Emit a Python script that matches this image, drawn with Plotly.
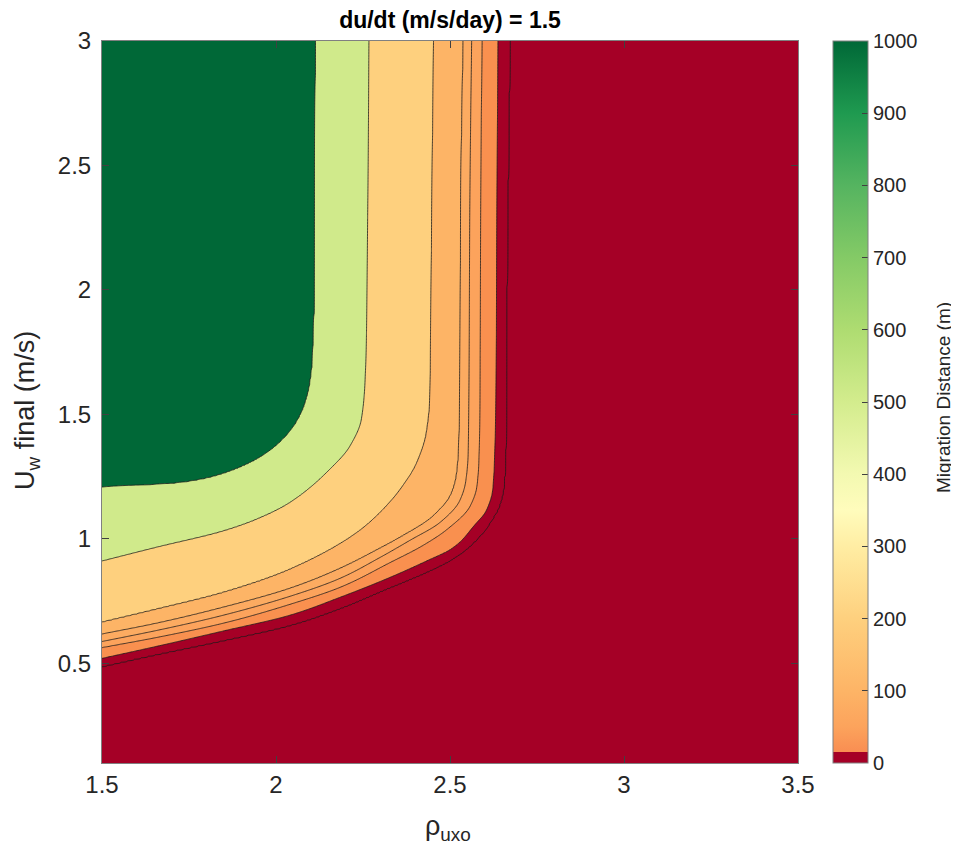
import numpy as np
import plotly.graph_objects as go

# ---- data -----------------------------------------------------------------
levels = [1000, 500, 200, 100, 75, 50, 25, 10]  # contour levels (m)

# boundary of each level: points (rho_uxo, U_w final) from left edge to top edge
b1000_rho = [1.5, 1.694, 1.780, 1.838, 1.895, 1.953, 2.010, 2.054, 2.082, 2.097, 2.105, 2.108, 2.111, 2.112, 2.114]
b1000_U   = [1.210, 1.222, 1.238, 1.258, 1.287, 1.327, 1.387, 1.459, 1.539, 1.620, 1.720, 1.840, 1.961, 2.563, 3.0]

b500_rho = [1.5, 1.656, 1.847, 1.943, 2.039, 2.154, 2.212, 2.245, 2.255, 2.260, 2.261, 2.265, 2.267]
b500_U   = [0.911, 0.966, 1.031, 1.078, 1.145, 1.279, 1.372, 1.479, 1.613, 1.827, 1.961, 2.563, 3.0]

b200_rho = [1.5, 1.656, 1.847, 2.039, 2.231, 2.298, 2.356, 2.404, 2.432, 2.442, 2.444, 2.448, 2.453]
b200_U   = [0.665, 0.717, 0.784, 0.877, 1.024, 1.105, 1.198, 1.305, 1.426, 1.560, 1.760, 2.362, 3.0]

b100_rho = [1.5, 1.656, 1.847, 2.039, 2.183, 2.298, 2.356, 2.450, 2.505, 2.519, 2.525, 2.528, 2.531, 2.538]
b100_U   = [0.618, 0.661, 0.725, 0.801, 0.881, 0.962, 1.006, 1.090, 1.186, 1.258, 1.359, 1.559, 2.362, 3.0]

b75_rho = [1.5, 1.656, 1.847, 2.039, 2.183, 2.298, 2.384, 2.471, 2.528, 2.545, 2.552, 2.554, 2.557, 2.562]
b75_U   = [0.588, 0.632, 0.693, 0.769, 0.841, 0.925, 0.994, 1.066, 1.154, 1.230, 1.339, 1.559, 2.362, 3.0]

b50_rho = [1.5, 1.656, 1.847, 2.039, 2.183, 2.327, 2.422, 2.491, 2.557, 2.577, 2.583, 2.586, 2.588, 2.592]
b50_U   = [0.564, 0.604, 0.661, 0.737, 0.805, 0.905, 0.974, 1.038, 1.130, 1.210, 1.319, 1.559, 2.362, 3.0]

b25_rho = [1.5, 1.656, 1.847, 2.039, 2.183, 2.327, 2.442, 2.499, 2.534, 2.565, 2.606, 2.623, 2.629, 2.632, 2.635, 2.638]
b25_U   = [0.520, 0.568, 0.630, 0.693, 0.765, 0.845, 0.917, 0.955, 0.994, 1.046, 1.118, 1.198, 1.359, 1.559, 2.362, 3.0]

b10_rho = [1.5, 1.656, 1.847, 2.039, 2.183, 2.327, 2.442, 2.510, 2.560, 2.597, 2.622, 2.643, 2.655, 2.660, 2.663, 2.666, 2.672]
b10_U   = [0.488, 0.536, 0.592, 0.653, 0.721, 0.805, 0.873, 0.922, 0.975, 1.030, 1.080, 1.138, 1.218, 1.359, 1.961, 2.362, 3.0]

boundaries = [(b1000_rho, b1000_U), (b500_rho, b500_U), (b200_rho, b200_U), (b100_rho, b100_U),
              (b75_rho, b75_U), (b50_rho, b50_U), (b25_rho, b25_U), (b10_rho, b10_U)]

# band colours (>=1000, 500-1000, 200-500, 100-200, 75-100, 50-75, 25-50, 10-25, <10)
band_colors = ['#006837', '#d0ea8b', '#fed07e', '#fdb466', '#fcab61', '#fca35c', '#f9904f', '#a50026', '#a50026']

x_ticks = [1.5, 2, 2.5, 3, 3.5]
x_ticktext = ['1.5', '2', '2.5', '3', '3.5']
y_ticks = [0.5, 1, 1.5, 2, 2.5, 3]
y_ticktext = ['0.5', '1', '1.5', '2', '2.5', '3']
cb_ticks = [0, 100, 200, 300, 400, 500, 600, 700, 800, 900, 1000]

cbar_pos = [0, 0.0156, 0.0156, 0.05, 0.1, 0.2, 0.3, 0.35, 0.4, 0.5, 0.6, 0.7, 0.8, 0.9, 1.0]
cbar_colors = ['#a50026', '#a50026', '#f98e52', '#fca35c', '#fdb466', '#fed07e', '#ffeda3', '#fffcbc',
               '#f3f9b1', '#d3ec8d', '#aedc71', '#84ca66', '#55b460', '#1f9a50', '#006837']


# ---- smooth (monotone cubic) curve through the boundary points -------------
def pchip(xk, yk, xq):
    xk = np.asarray(xk, float)
    yk = np.asarray(yk, float)
    h = np.diff(xk)
    d = np.diff(yk) / h
    n = len(xk)
    m = np.zeros(n)
    m[0], m[-1] = d[0], d[-1]
    for k in range(1, n - 1):
        if d[k - 1] * d[k] <= 0:
            m[k] = 0.0
        else:
            w1 = 2 * h[k] + h[k - 1]
            w2 = h[k] + 2 * h[k - 1]
            m[k] = (w1 + w2) / (w1 / d[k - 1] + w2 / d[k])
    idx = np.clip(np.searchsorted(xk, xq) - 1, 0, n - 2)
    t = (xq - xk[idx]) / h[idx]
    h00 = 2 * t ** 3 - 3 * t ** 2 + 1
    h10 = t ** 3 - 2 * t ** 2 + t
    h01 = -2 * t ** 3 + 3 * t ** 2
    h11 = t ** 3 - t ** 2
    return h00 * yk[idx] + h10 * h[idx] * m[idx] + h01 * yk[idx + 1] + h11 * h[idx] * m[idx + 1]


# ---- field of level index built from the boundaries ------------------------
xg = np.linspace(1.5, 3.5, 601)
yg = np.linspace(0.1, 3.0, 481)
nb = len(boundaries)
XB = np.zeros((nb, len(yg)))
for j, (bx, by) in enumerate(boundaries):
    bx = np.array(bx, float)
    by = np.array(by, float)
    inside = yg >= by[0]
    xb = np.empty_like(yg)
    xb[inside] = pchip(by, bx, yg[inside])
    xb[~inside] = bx[0] - (by[0] - yg[~inside]) * 3.0
    XB[j] = xb
XB = np.maximum.accumulate(XB, axis=0) + 1e-6 * np.arange(nb)[:, None]
G = np.empty((len(yg), len(xg)))
for i in range(len(yg)):
    xp = np.concatenate([[XB[0, i] - 1.0], XB[:, i], [XB[-1, i] + 1.0]])
    fp = np.arange(nb + 2, dtype=float)
    G[i] = np.interp(xg, xp, fp)

nbands = len(band_colors)
band_scale = [[b / (nbands - 1), c] for b, c in enumerate(band_colors)]

FONT = "Liberation Sans, Arial, Helvetica, sans-serif"
TXT = '#262626'

fig = go.Figure()
fig.add_trace(go.Contour(
    x=xg, y=yg, z=G,
    contours=dict(start=1, end=nb, size=1, coloring='fill', showlines=True),
    line=dict(color='#1a1a1a', width=0.8, smoothing=1.0),
    colorscale=band_scale, showscale=False, hoverinfo='skip'))

fig.add_trace(go.Heatmap(
    x=[10, 11], y=[10, 11], z=[[0, 1000], [0, 1000]], zmin=0, zmax=1000,
    colorscale=[[p, c] for p, c in zip(cbar_pos, cbar_colors)],
    showscale=True, hoverinfo='skip',
    colorbar=dict(x=(833 - 102) / 696, xanchor='left', xpad=0, ypad=0, y=0.5, yanchor='middle',
                  len=1, lenmode='fraction', thickness=35, thicknessmode='pixels',
                  outlinewidth=1, outlinecolor='#808080',
                  tickvals=cb_ticks, ticktext=[str(v) for v in cb_ticks],
                  ticks='inside', ticklen=6, tickcolor='#404040',
                  tickfont=dict(family=FONT, size=20, color=TXT))))

# page has an 8px body margin: plot area at page x 102..798, y 41..763
fig.update_layout(
    width=951, height=840,
    margin=dict(l=94, r=161, t=33, b=85),
    paper_bgcolor='white', plot_bgcolor='white',
    font=dict(family=FONT, color=TXT),
    title=dict(text='<b>du/dt (m/s/day) = 1.5</b>', x=0.5, xref='paper', xanchor='center',
               y=1 - 12 / 840, yref='container', yanchor='middle',
               font=dict(family=FONT, size=23, color='#000000')),
    xaxis=dict(range=[1.5, 3.5], tickvals=x_ticks, ticktext=x_ticktext,
               ticks='inside', ticklen=7, tickcolor='#404040', showline=True, linecolor='#808080',
               mirror='ticks', showgrid=False, zeroline=False,
               tickfont=dict(family=FONT, size=24, color=TXT)),
    yaxis=dict(range=[0.1, 3.0], tickvals=y_ticks, ticktext=y_ticktext,
               ticks='inside', ticklen=7, tickcolor='#404040', showline=True, linecolor='#808080',
               mirror='ticks', showgrid=False, zeroline=False, ticklabelstandoff=5,
               tickfont=dict(family=FONT, size=24, color=TXT)),
    annotations=[
        dict(text='ρ<sub>uxo</sub>', x=(448 - 102) / 696, y=(763 - 828) / 722, xref='paper', yref='paper',
             xanchor='center', yanchor='middle', showarrow=False,
             font=dict(family=FONT, size=27, color=TXT)),
        dict(text='U<sub>w</sub> final (m/s)', x=(27 - 102) / 696, y=(763 - 411) / 722,
             xref='paper', yref='paper', textangle=-90,
             xanchor='center', yanchor='middle', showarrow=False,
             font=dict(family=FONT, size=27, color=TXT)),
        dict(text='Migration Distance (m)', x=(943 - 102) / 696, y=(763 - 398) / 722,
             xref='paper', yref='paper', textangle=-90,
             xanchor='center', yanchor='middle', showarrow=False,
             font=dict(family=FONT, size=19, color=TXT)),
    ],
)

fig.write_html("out.html")
